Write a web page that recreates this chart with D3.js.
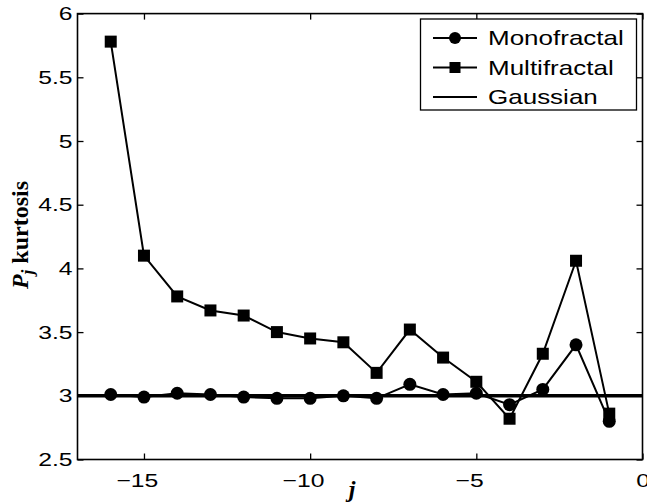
<!DOCTYPE html>
<html>
<head>
<meta charset="utf-8">
<script src="https://cdn.jsdelivr.net/npm/d3@7"></script>
<style>
  html, body { margin: 0; padding: 0; background: #fff; }
  svg { display: block; }
</style>
</head>
<body>
<div id="chart"></div>
<script>
// Scale index j
const scales = [-16, -15, -14, -13, -12, -11, -10, -9, -8, -7, -6, -5, -4, -3, -2, -1];
// Kurtosis of the wavelet coefficients per scale
const monofractal = [3.01, 2.99, 3.02, 3.01, 2.99, 2.98, 2.98, 3.00, 2.98, 3.09, 3.01, 3.02, 2.93, 3.05, 3.40, 2.80];
const multifractal = [5.78, 4.10, 3.78, 3.67, 3.63, 3.50, 3.45, 3.42, 3.18, 3.52, 3.30, 3.11, 2.82, 3.33, 4.06, 2.86];
const gaussianLevel = 3;
const xTicks = [-15, -10, -5, 0];
const yTicks = [2.5, 3, 3.5, 4, 4.5, 5, 5.5, 6];
const legendNames = ["Monofractal", "Multifractal", "Gaussian"];

const W = 647, H = 504;
const svg = d3.select("#chart").append("svg").attr("width", W).attr("height", H);

const plotL = 77.5, plotR = 642.5, plotT = 13.6, plotB = 459.5;
const x = d3.scaleLinear().domain([-17, 0]).range([plotL, plotR]);
const y = d3.scaleLinear().domain([2.5, 6]).range([plotB, plotT]);

const font = "'Liberation Sans', Arial, Helvetica, sans-serif";
const stretch = 1.3; // wide glyph proportions of the labels

// Frame
svg.append("rect").attr("x", plotL).attr("y", plotT)
  .attr("width", plotR - plotL).attr("height", plotB - plotT)
  .attr("fill", "none").attr("stroke", "#000").attr("stroke-width", 1.6);

// Inward ticks on all four sides
const tl = 6;
const styleAxis = g => {
  g.select(".domain").remove();
  g.selectAll(".tick line").attr("stroke", "#000").attr("stroke-width", 1.3);
  g.selectAll(".tick text").attr("font-family", font).attr("font-size", 19).attr("fill", "#000")
    .each(function () {
      const t = d3.select(this);
      const tx = +t.attr("x") || 0;
      t.attr("x", 0).attr("transform", `translate(${tx},0) scale(${stretch},1)`);
    });
};
svg.append("g").attr("transform", `translate(0,${plotB})`)
  .call(d3.axisBottom(x).tickValues(xTicks).tickSize(-tl).tickPadding(14)
    .tickFormat(d => d < 0 ? "\u2212" + Math.abs(d) : d))
  .call(styleAxis)
  .call(g => g.selectAll(".tick text").filter(d => d < 0).attr("dx", -5.5));
svg.append("g").attr("transform", `translate(0,${plotT})`)
  .call(d3.axisTop(x).tickValues(xTicks).tickSize(-tl).tickFormat(""))
  .call(styleAxis);
svg.append("g").attr("transform", `translate(${plotL},0)`)
  .call(d3.axisLeft(y).tickValues(yTicks).tickSize(-tl).tickPadding(5).tickFormat(d3.format("")))
  .call(styleAxis);
svg.append("g").attr("transform", `translate(${plotR},0)`)
  .call(d3.axisRight(y).tickValues(yTicks).tickSize(-tl).tickFormat(""))
  .call(styleAxis);

// Gaussian reference level
svg.append("line")
  .attr("x1", plotL).attr("x2", plotR)
  .attr("y1", y(gaussianLevel)).attr("y2", y(gaussianLevel))
  .attr("stroke", "#000").attr("stroke-width", 3.5);

const line = d3.line().x((d, i) => x(scales[i])).y(d => y(d));

// Multifractal series (squares)
svg.append("path").datum(multifractal).attr("d", line)
  .attr("fill", "none").attr("stroke", "#000").attr("stroke-width", 2);
const sq = 12;
svg.append("g").selectAll("rect").data(multifractal).join("rect")
  .attr("x", (d, i) => x(scales[i]) - sq / 2).attr("y", d => y(d) - sq / 2)
  .attr("width", sq).attr("height", sq).attr("fill", "#000");

// Monofractal series (circles)
svg.append("path").datum(monofractal).attr("d", line)
  .attr("fill", "none").attr("stroke", "#000").attr("stroke-width", 2);
svg.append("g").selectAll("circle").data(monofractal).join("circle")
  .attr("cx", (d, i) => x(scales[i])).attr("cy", d => y(d))
  .attr("r", 6.5).attr("fill", "#000");

// Legend
const lg = svg.append("g");
lg.append("rect").attr("x", 420.5).attr("y", 19).attr("width", 216).attr("height", 91)
  .attr("fill", "#fff").attr("stroke", "#000").attr("stroke-width", 1.3);
const rowY = [38, 67.5, 97];
legendNames.forEach((name, i) => {
  const ry = rowY[i];
  lg.append("line").attr("x1", 433).attr("x2", 477).attr("y1", ry).attr("y2", ry)
    .attr("stroke", "#000").attr("stroke-width", 2);
  if (i === 0) lg.append("circle").attr("cx", 455).attr("cy", ry).attr("r", 6).attr("fill", "#000");
  if (i === 1) lg.append("rect").attr("x", 455 - 5.5).attr("y", ry - 5.5)
    .attr("width", 11).attr("height", 11).attr("fill", "#000");
  lg.append("text").attr("transform", `translate(488,${ry + 7}) scale(${stretch},1)`)
    .attr("font-family", font).attr("font-size", 20).text(name);
});

// Axis titles
const serif = "'Liberation Serif', 'Times New Roman', serif";
svg.append("text").attr("x", 352).attr("y", 497)
  .attr("font-family", serif).attr("font-size", 24).attr("font-weight", "bold")
  .attr("font-style", "italic").attr("text-anchor", "middle").text("j");

const yl = svg.append("text")
  .attr("transform", `translate(28,235) rotate(-90)`)
  .attr("font-family", serif).attr("font-size", 24).attr("font-weight", "bold")
  .attr("text-anchor", "middle");
yl.append("tspan").attr("font-style", "italic").text("P");
yl.append("tspan").attr("font-style", "italic").attr("font-size", 17).attr("dy", 5).text("j");
yl.append("tspan").attr("dy", -5).text(" kurtosis");
</script>
</body>
</html>
